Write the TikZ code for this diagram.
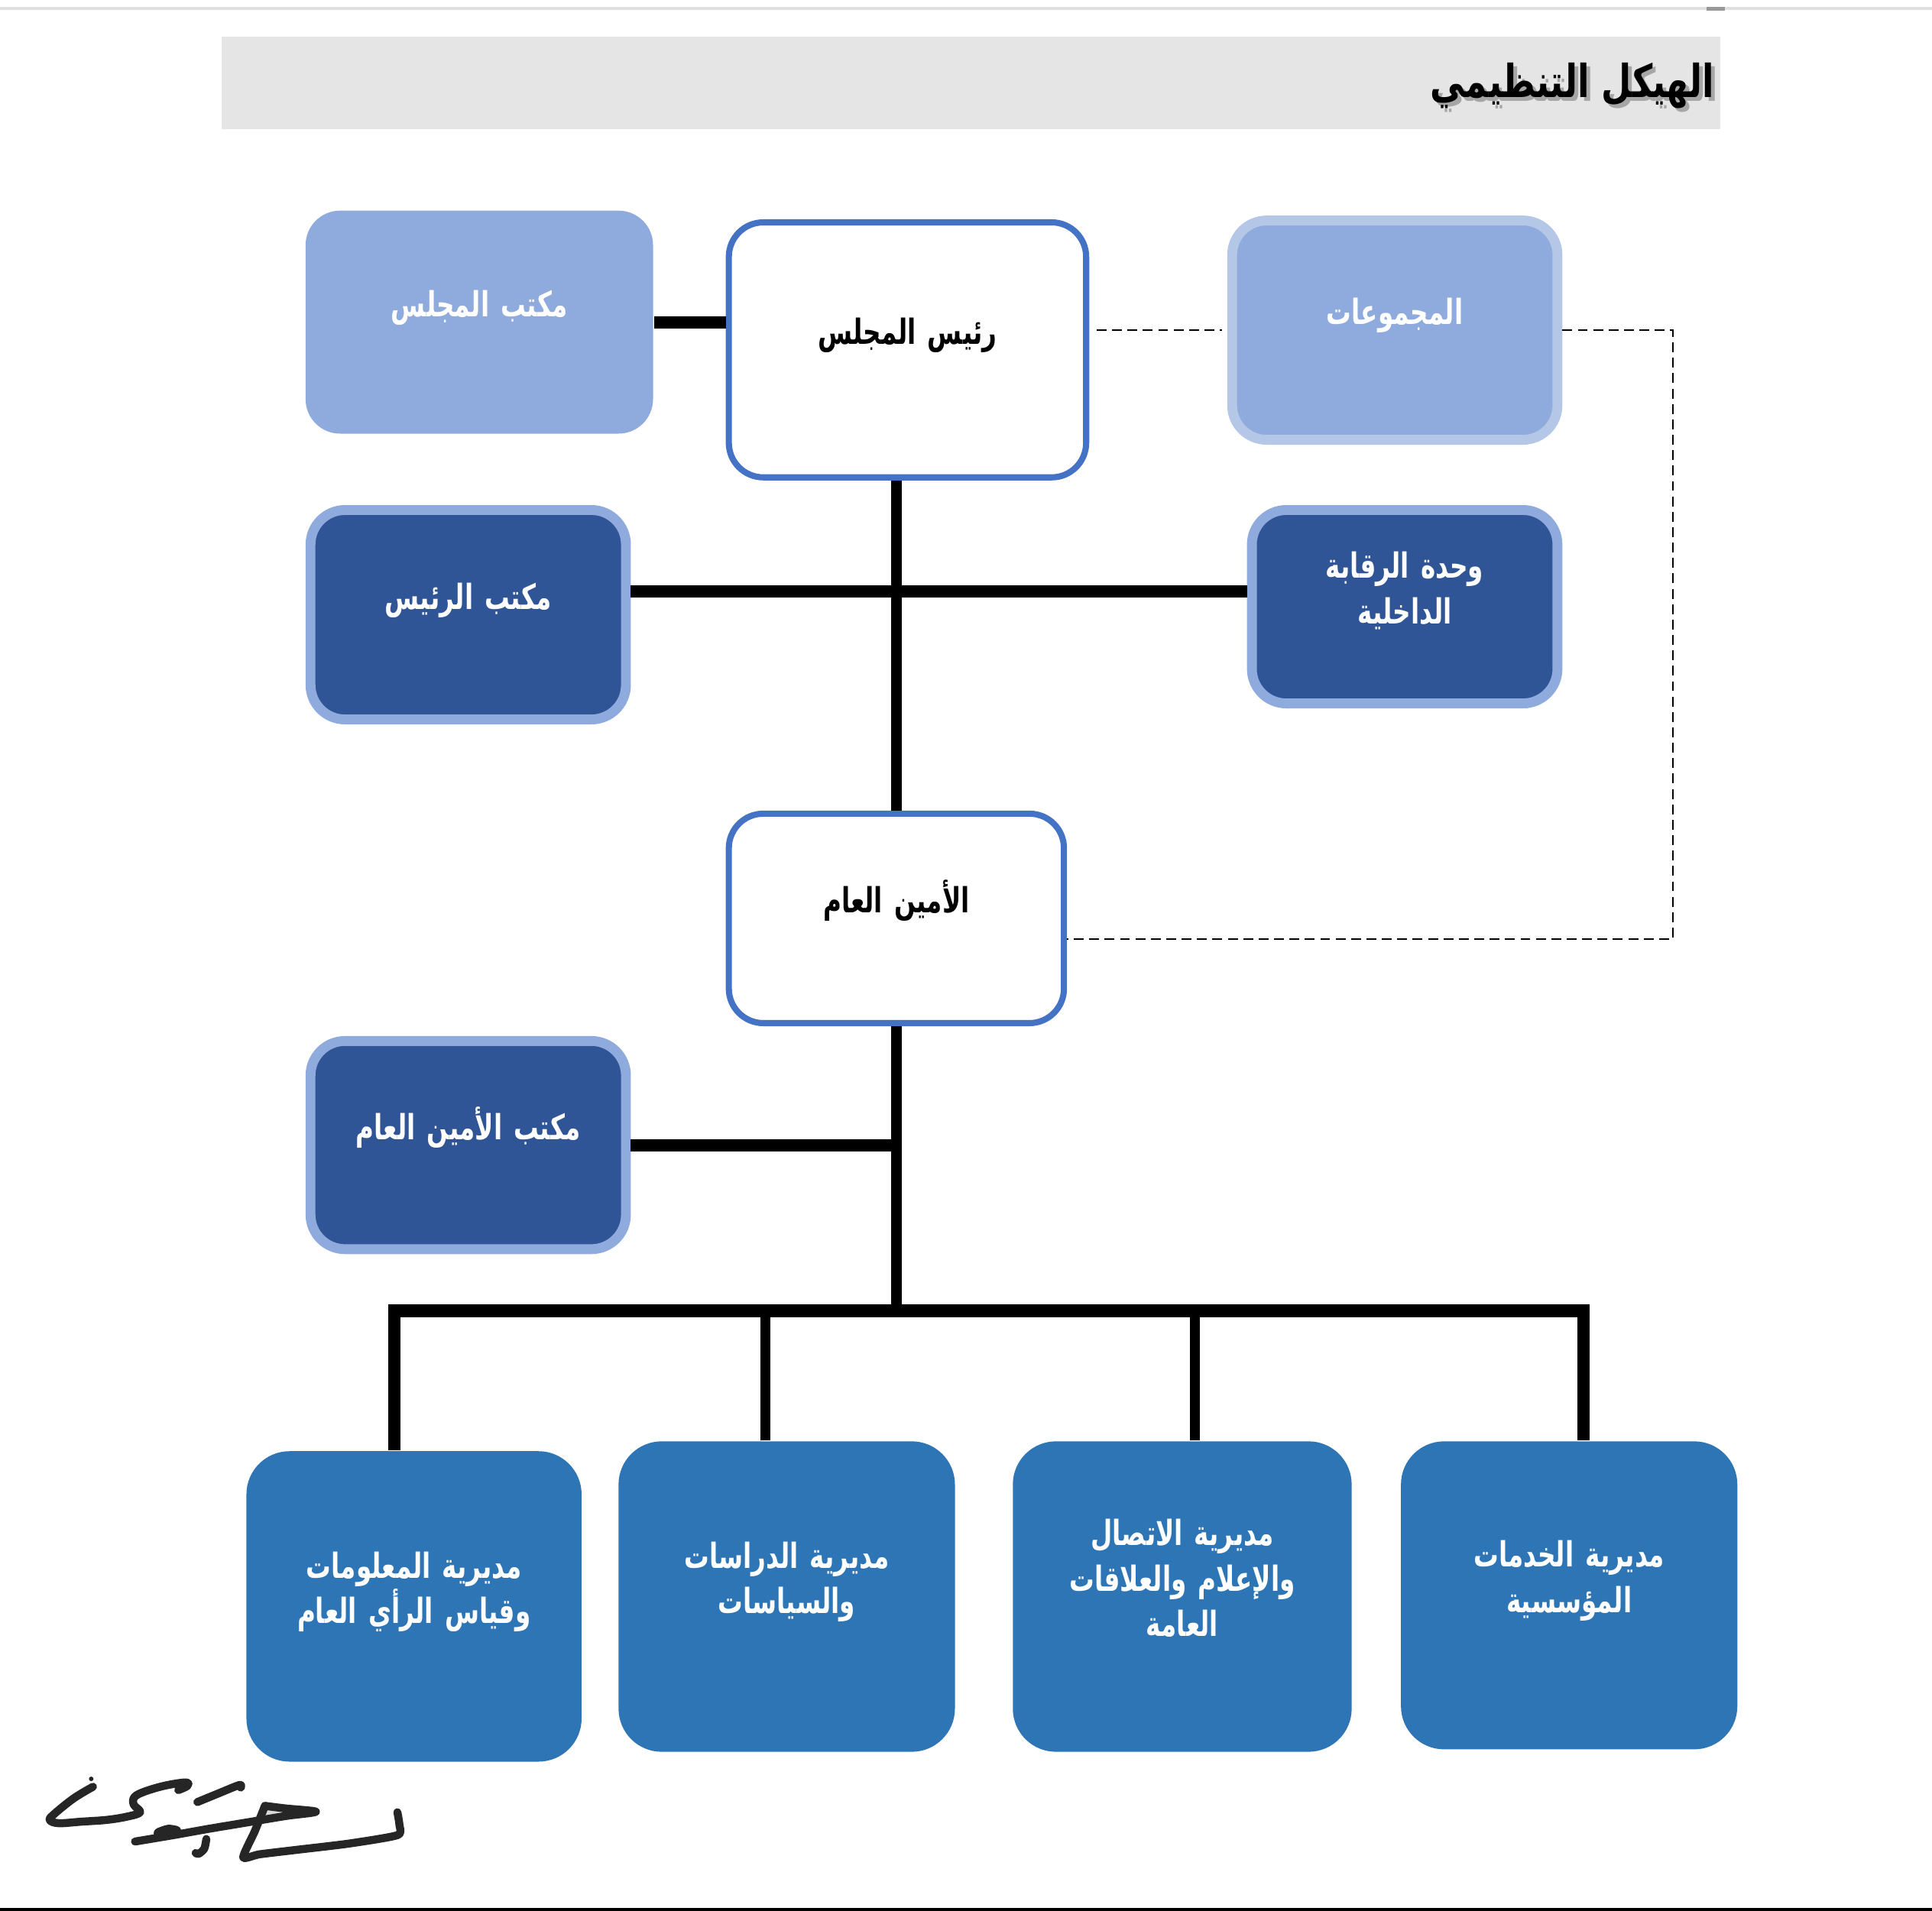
\documentclass[tikz,border=0pt]{standalone}
\usepackage{fontspec}
\newfontfamily\arfont[Script=Arabic, FakeStretch=0.72]{DejaVu Sans}
\newfontfamily\titlefont[Script=Arabic, FakeStretch=0.76]{DejaVu Sans}
\TeXXeTstate=1
\newcommand{\artxt}[1]{\beginR #1\endR}
\definecolor{lightblue}{HTML}{8FAADC}
\definecolor{paleblue}{HTML}{B4C7E7}
\definecolor{darkblue}{HTML}{2F5597}
\definecolor{midblue}{HTML}{4472C4}
\definecolor{deptblue}{HTML}{2E75B6}
\definecolor{titlegray}{HTML}{E5E5E5}
\begin{document}
\begin{tikzpicture}[
        block/.style={rectangle, rounded corners=2.8mm, align=center, text width=2.2cm, inner sep=0.8mm,
            text height=3mm, text depth=3.9mm, font=\arfont\bfseries\fontsize{8}{10.5}\selectfont},
        head/.style={block, fill=white, draw=midblue, line width=0.5mm, text=black},
        council/.style={block, fill=lightblue, text=white},
        office/.style={block, fill=darkblue, draw=lightblue, line width=0.8mm, text=white},
        dept/.style={block, fill=deptblue, text=white, rounded corners=3.5mm},
        heading/.style={anchor=base east, inner sep=0pt, font=\titlefont\bfseries\fontsize{10.5}{12}\selectfont},
        link/.style={line width=1mm},
        dashlink/.style={line width=0.35pt, dash pattern=on 0.8mm off 0.45mm},
        ]
        \useasboundingbox (0,0) rectangle (15.68,-15.51);

        % page edges and title bar
        \draw[black!12, line width=0.25mm] (0,-0.07) -- (15.68,-0.07);
        \draw[black!40, line width=0.3mm] (13.85,-0.07) -- (14.00,-0.07);
        \draw[black, line width=0.2mm] (0,-15.50) -- (15.68,-15.50);
        \fill[titlegray] (1.80,-0.30) rectangle (13.96,-1.05);
        \node (titleshadow) at (13.95,-0.82) [heading, text=black!35] {\artxt{الهيكل التنظيمي}};
        \node (title) at (13.92,-0.79) [heading] {\artxt{الهيكل التنظيمي}};

        \node (council) at (3.89,-2.615) [council, minimum width=2.82cm, minimum height=1.81cm] {\artxt{مكتب المجلس}};
        \node (chair) at (7.365,-2.84) [head, minimum width=2.90cm, minimum height=2.07cm] {\artxt{رئيس المجلس}};
        \node (groups) at (11.32,-2.68) [council, draw=paleblue, line width=0.8mm, minimum width=2.64cm, minimum height=1.78cm] {\artxt{المجموعات}};
        \node (chairoffice) at (3.80,-4.99) [office, minimum width=2.56cm, minimum height=1.70cm] {\artxt{مكتب الرئيس}};
        \node (audit) at (11.40,-4.925) [office, minimum width=2.48cm, minimum height=1.57cm, text depth=7.6mm] {\artxt{وحدة الرقابة}\\\artxt{الداخلية}};
        \node (secgen) at (7.275,-7.455) [head, minimum width=2.72cm, minimum height=1.70cm] {\artxt{الأمين العام}};
        \node (secgenoffice) at (3.80,-9.295) [office, minimum width=2.56cm, minimum height=1.69cm] {\artxt{مكتب الأمين العام}};

        \node (d1) at (3.36,-13.04) [dept, minimum width=2.72cm, minimum height=2.52cm, text depth=7.6mm] {\artxt{مديرية المعلومات}\\\artxt{وقياس الرأي العام}};
        \node (d2) at (6.385,-12.96) [dept, minimum width=2.73cm, minimum height=2.52cm, text depth=7.6mm] {\artxt{مديرية الدراسات}\\\artxt{والسياسات}};
        \node (d3) at (9.595,-12.96) [dept, minimum width=2.75cm, minimum height=2.52cm, text depth=11.3mm] {\artxt{مديرية الاتصال}\\\artxt{والإعلام والعلاقات}\\\artxt{العامة}};
        \node (d4) at (12.735,-12.95) [dept, minimum width=2.73cm, minimum height=2.50cm, text depth=7.6mm] {\artxt{مديرية الخدمات}\\\artxt{المؤسسية}};

        \coordinate (cross) at (7.275,-4.80);
        \coordinate (bus) at (7.275,-10.64);
        \coordinate (dashturn) at (13.58,-7.62);

        \draw[link] (council.east) -- (council.east -| chair.west);
        \draw[link, line width=0.9mm] (chair.south -| secgen.north) -- (secgen.north);
        \draw[link] (cross -| chairoffice.east) -- (cross -| audit.west);
        \draw[link, line width=0.9mm] (secgen.south) -- (bus);
        \draw[link] (secgenoffice.east) -- (secgenoffice.east -| secgen.south);
        \draw[link] ([xshift=-1.6mm]d1.north) |- (bus) -| ([xshift=1.15mm]d4.north);
        \draw[link, line width=0.8mm] ([xshift=-1.75mm]d2.north) -- ([xshift=-1.75mm]d2.north |- bus);
        \draw[link, line width=0.8mm] ([xshift=1.05mm]d3.north) -- ([xshift=1.05mm]d3.north |- bus);

        \draw[dashlink, shorten <=0.6mm, shorten >=0.4mm] (groups.west -| chair.east) -- (groups.west);
        \draw[dashlink] (groups.east) -| (dashturn) -- (dashturn -| secgen.east);

        % signature
        \begin{scope}[shift={(0.2481,-14.2662)}, x=0.02068mm, y=-0.02068mm, line width=0.65mm, line cap=round, line join=round, black!85]
            \fill[black!15] (920,192) -- (1115,214) -- (925,233) -- cycle;
            \fill (238,84) circle (9);
            \draw plot[smooth, tension=0.6] coordinates {(245,115) (170,160) (95,220) (75,245) (110,258) (200,252) (300,245) (380,232) (430,215) (405,185) (408,155) (450,133) (530,110) (610,98) (615,112) (580,128)};
            \draw plot[smooth] coordinates {(655,175) (740,140) (820,108) (825,118)};
            \draw plot[smooth, tension=0.5] coordinates {(410,330) (470,320) (560,305) (700,280) (850,255) (1000,230) (1120,213) (1000,200) (920,190)};
            \draw plot[smooth, tension=0.4] coordinates {(920,190) (880,290) (835,392) (900,380) (1050,362) (1250,338) (1440,305) (1448,265) (1440,215)};
            \draw[line width=0.9mm] plot[smooth] coordinates {(505,298) (540,286) (570,290)};
            \draw plot[smooth] coordinates {(690,320) (682,358) (660,378) (648,375)};
        \end{scope}

    \end{tikzpicture}
\end{document}
